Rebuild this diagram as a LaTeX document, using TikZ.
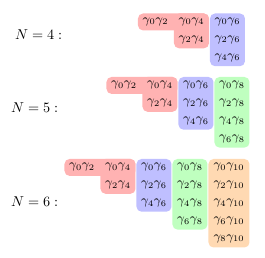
\documentclass[tikz,border=0pt]{standalone}
\begin{document}
\begin{tikzpicture}[declare function={colw=36; rowh=17.9; wlast=42; gap=0.5;},x=0.7pt,y=-0.7pt,every node/.style={font=\small},line join=round,line cap=round]
	\tikzset{cell/.style={inner sep=0pt},blok/.style={rounded corners=3.5pt},lbl/.style={inner sep=0pt,anchor=east,font=\normalsize}}
	\useasboundingbox (0,0) rectangle (265,258);
	\foreach \n/\xo/\yo/\lx/\ly in {4/137.5/13/62.5/35, 5/106/76.5/58.5/108, 6/64/158.5/58.5/202}{
		% label
		\node[lbl] (N\n) at (\lx,\ly) {$N=\n:$};
		% red block
		\fill[red!30,blok] (\xo+gap,\yo+gap) rectangle (\xo+2*colw-gap,\yo+rowh-gap);
		\fill[red!30,blok] (\xo+colw+gap,\yo+gap) rectangle (\xo+2*colw-gap,\yo+2*rowh-gap);
		% columns
		\foreach \j/\c/\w in {3/blue!25/colw,4/green!25/colw,5/orange!30/wlast}{
			\ifnum\j<\n
			\fill[\c,blok] (\xo+\j*colw-colw+gap,\yo+gap) rectangle (\xo+\j*colw-colw+\w-gap,\yo+\j*rowh-gap);
			\fi
		}
		% cells
		\pgfmathtruncatemacro\m{\n-1}
		\foreach \j in {1,...,\m}{
			\pgfmathtruncatemacro\k{\j-1}
			\pgfmathtruncatemacro\b{2*\j}
			\pgfmathsetmacro\cx{\j<5 ? (\j-0.5)*colw : 4*colw+wlast/2}
			\foreach \i in {0,...,\k}{
				\pgfmathtruncatemacro\a{2*\i}
				\node[cell] (g\n-\i-\j) at (\xo+\cx,\yo+\i*rowh+rowh/2) {$\gamma_{\a}\gamma_{\b}$};
			}
		}
	}
\end{tikzpicture}
\end{document}
